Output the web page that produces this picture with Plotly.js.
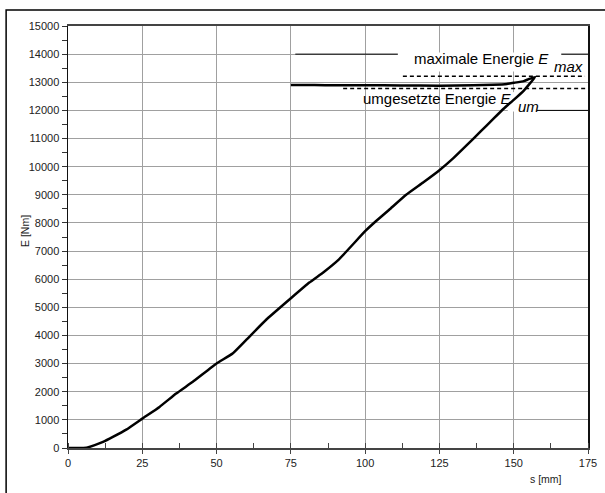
<!DOCTYPE html>
<html>
<head>
<meta charset="utf-8">
<script src="https://cdn.plot.ly/plotly-3.0.1.min.js"></script>
<style>html,body{margin:0;padding:0;background:#fff}#chart{width:605px;height:493px}</style>
</head>
<body>
<div id="chart"></div>
<script>
// Loading branch (s in mm, E in Nm)
var sLoad = [0, 3, 6.2, 9, 11.8, 15.1, 19.6, 25, 30.8, 36.4, 42, 50, 55.4, 59.9, 66.6, 75, 81.2, 86, 91.2, 100, 103.6, 108.1, 113.8, 119.5, 125.1, 129.6, 134.2, 138.7, 143.2, 146.6, 150, 153.4, 157.2];
var eLoad = [0, 0, 10, 100, 214, 392, 653, 1045, 1461, 1936, 2352, 3005, 3361, 3836, 4549, 5321, 5879, 6250, 6706, 7706, 8059, 8471, 9000, 9435, 9882, 10294, 10765, 11235, 11706, 12059, 12376, 12706, 13190];
// Unloading branch
var sUnload = [155, 153.4, 150, 147.7, 143, 136.4, 125, 112, 100, 90, 83, 75];
var eUnload = [13110, 13040, 12980, 12940, 12910, 12890, 12880, 12885, 12895, 12890, 12900, 12900];

var E_MAX = 13210;   // maximale Energie
var E_UM = 12780;    // umgesetzte Energie

var xTicks = [0, 25, 50, 75, 100, 125, 150, 175];
var yTicks = [0, 1000, 2000, 3000, 4000, 5000, 6000, 7000, 8000, 9000, 10000, 11000, 12000, 13000, 14000, 15000];

var sAll = sLoad.concat(sUnload);
var eAll = eLoad.concat(eUnload);

var traces = [
  {x: sAll, y: eAll, mode: 'lines', line: {color: '#000', width: 2.5, shape: 'spline', smoothing: 0.3}, hoverinfo: 'skip'},
  {x: [112.7, 174], y: [E_MAX, E_MAX], mode: 'lines', line: {color: '#000', width: 1.5, dash: '4px,3px'}, hoverinfo: 'skip'},
  {x: [92.6, 175], y: [E_UM, E_UM], mode: 'lines', line: {color: '#000', width: 1.5, dash: '4px,3px'}, hoverinfo: 'skip'}
];

var F = 'Liberation Sans, Arial, sans-serif';

var layout = {
  width: 605, height: 493,
  margin: {l: 68, r: 17, t: 26, b: 45},
  paper_bgcolor: '#fff', plot_bgcolor: '#fff',
  showlegend: false,
  font: {family: F, size: 11, color: '#222'},
  xaxis: {
    range: [0, 175], tickvals: xTicks, ticktext: xTicks.map(String),
    ticks: 'outside', ticklen: 4, tickcolor: '#444',
    showgrid: true, gridcolor: '#a0a0a0', gridwidth: 1,
    showline: true, linecolor: '#444', linewidth: 2, mirror: true,
    zeroline: false,
    minor: {dtick: 12.5, tick0: 0, ticks: 'inside', ticklen: 5, tickcolor: '#444', showgrid: false},
    tickfont: {family: F, size: 11, color: '#222'}
  },
  yaxis: {
    range: [0, 15000], tickvals: yTicks, ticktext: yTicks.map(String),
    ticks: 'outside', ticklen: 5, tickcolor: '#333',
    showgrid: true, gridcolor: '#a0a0a0', gridwidth: 1,
    showline: true, linecolor: '#111', linewidth: 1.5, mirror: true,
    zeroline: false,
    minor: {dtick: 500, tick0: 0, ticks: 'outside', ticklen: 5, tickcolor: '#333', showgrid: false},
    tickfont: {family: F, size: 11, color: '#222'}
  },
  shapes: [
    {type: 'rect', xref: 'paper', yref: 'paper', x0: -0.119, x1: 1.2, y0: -0.3, y1: 1.038, line: {color: '#000', width: 1.5}, layer: 'below'},
    {type: 'line', xref: 'x', yref: 'y', x0: 76.5, x1: 175, y0: 14000, y1: 14000, line: {color: '#000', width: 1}, layer: 'between'},
    {type: 'line', xref: 'x', yref: 'y', x0: 157.7, x1: 175, y0: 12000, y1: 12000, line: {color: '#000', width: 1}, layer: 'between'},
    {type: 'rect', xref: 'x', yref: 'y', x0: 111, x1: 166, y0: 13380, y1: 14060, fillcolor: '#fff', line: {width: 0}, layer: 'between'},
    {type: 'rect', xref: 'x', yref: 'y', x0: 148, x1: 157.7, y0: 11960, y1: 12650, fillcolor: '#fff', line: {width: 0}, layer: 'between'}
  ],
  annotations: [
    {xref: 'x', yref: 'y', x: 115.6, y: 13833, xanchor: 'left', yanchor: 'middle', showarrow: false,
     text: 'maximale Energie <i>E</i>', font: {family: F, size: 15, color: '#000'}},
    {xref: 'x', yref: 'y', x: 162.8, y: 13548, xanchor: 'left', yanchor: 'middle', showarrow: false,
     text: '<i>max</i>', font: {family: F, size: 15, color: '#000'}},
    {xref: 'x', yref: 'y', x: 98.7, y: 12410, xanchor: 'left', yanchor: 'middle', showarrow: false,
     text: 'umgesetzte Energie <i>E</i>', font: {family: F, size: 15, color: '#000'}},
    {xref: 'x', yref: 'y', x: 150.9, y: 12125, xanchor: 'left', yanchor: 'middle', showarrow: false,
     text: '<i>um</i>', font: {family: F, size: 15, color: '#000'}},
    {xref: 'paper', yref: 'paper', x: -0.084, y: 0.515, xanchor: 'center', yanchor: 'middle', showarrow: false,
     textangle: -90, text: 'E [Nm]', font: {family: F, size: 10.5, color: '#222'}},
    {xref: 'paper', yref: 'paper', x: 0.92, y: -0.074, xanchor: 'center', yanchor: 'middle', showarrow: false,
     text: 's [mm]', font: {family: F, size: 10.5, color: '#222'}}
  ]
};

Plotly.newPlot('chart', traces, layout, {staticPlot: true, displayModeBar: false});
</script>
</body>
</html>
